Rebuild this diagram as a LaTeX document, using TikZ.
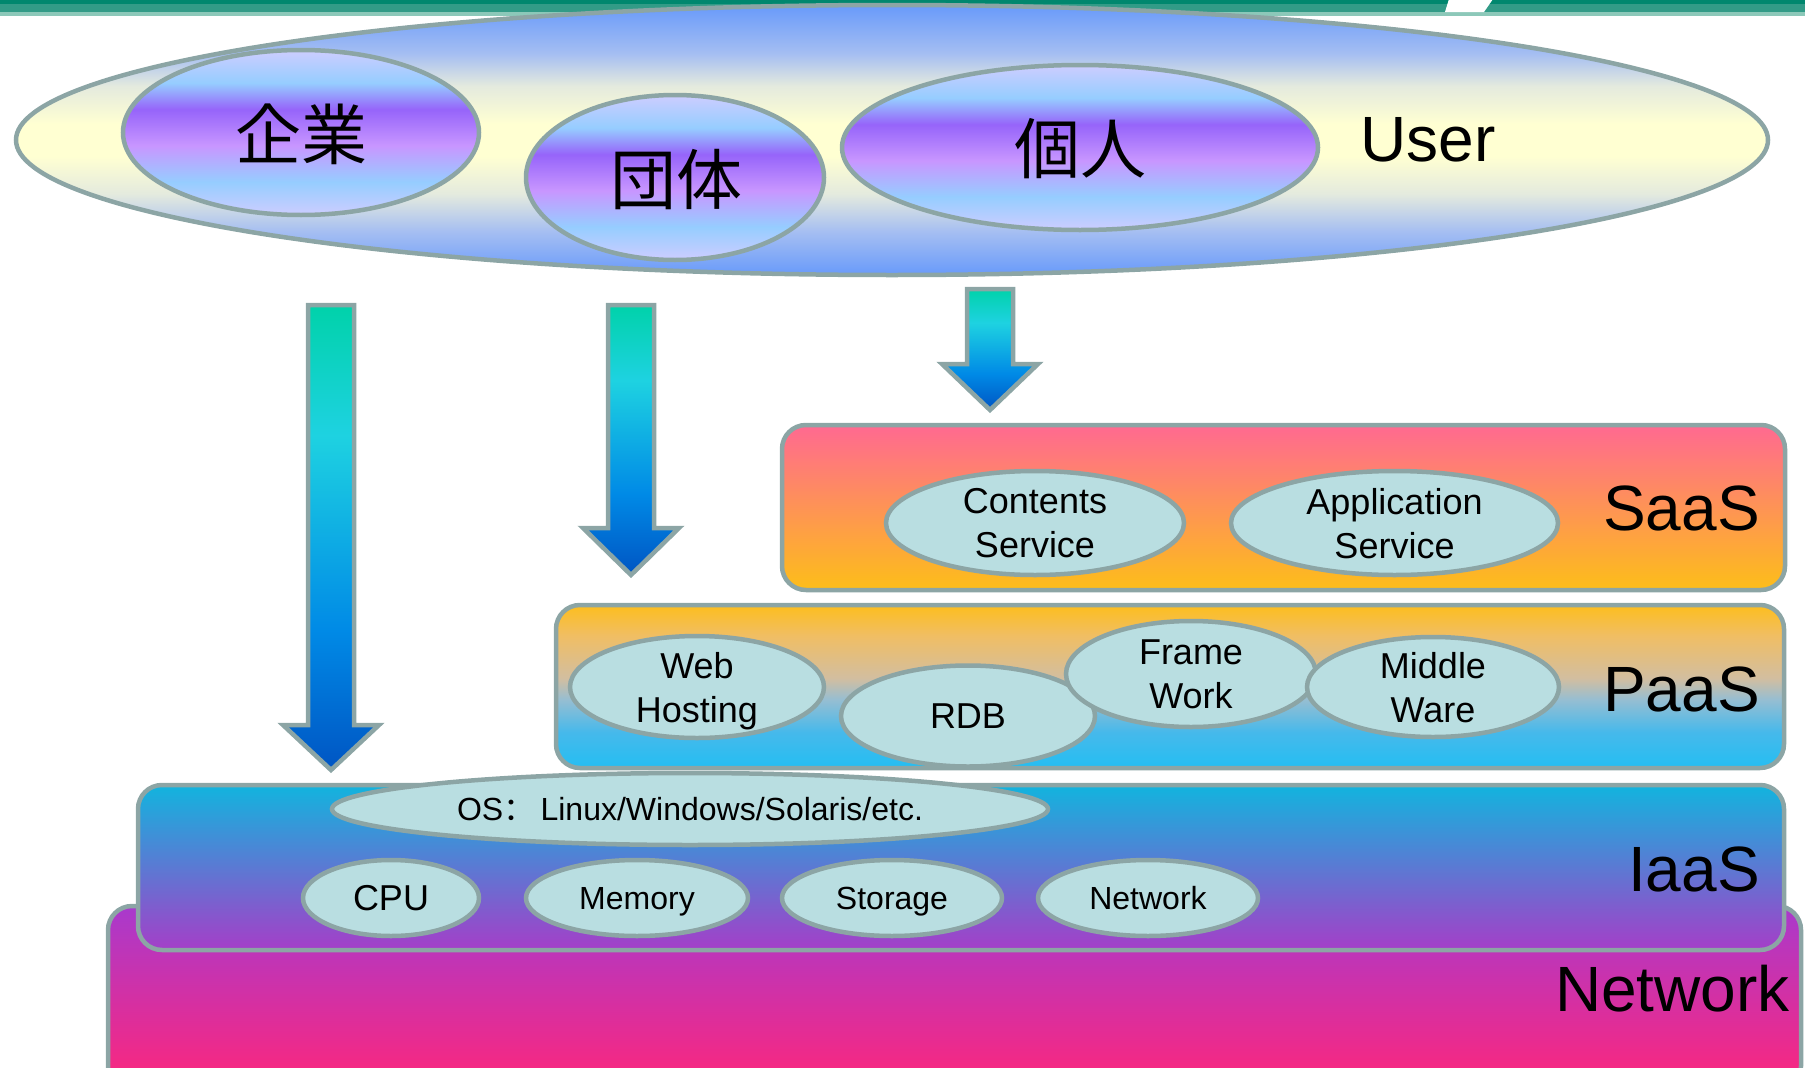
\documentclass[tikz,border=0pt]{standalone}
\usepackage{fontspec}
\setmainfont{Liberation Sans}
\newfontfamily\jpfont{Noto Sans CJK JP}
\newfontfamily\scfont{Noto Sans CJK SC}
\usetikzlibrary{shapes.geometric}

% palette
\definecolor{edge}{RGB}{140,165,165}
\definecolor{itemfill}{RGB}{185,222,225}
\definecolor{stripdark}{RGB}{0,135,110}
\definecolor{stripmid}{RGB}{50,155,135}
\definecolor{striplight}{RGB}{140,200,185}
% user ellipse
\definecolor{uBlue}{RGB}{104,154,250}
\definecolor{uMidA}{RGB}{165,190,242}
\definecolor{uMidB}{RGB}{228,234,222}
\definecolor{uYel}{RGB}{255,255,210}
% user groups
\definecolor{gLav}{RGB}{205,205,255}
\definecolor{gLBlue}{RGB}{150,205,255}
\definecolor{gPurple}{RGB}{150,100,250}
\definecolor{gLPurple}{RGB}{200,150,255}
% arrows
\definecolor{aTeal}{RGB}{0,210,170}
\definecolor{aCyan}{RGB}{30,210,225}
\definecolor{aBlue}{RGB}{0,138,230}
\definecolor{aDark}{RGB}{0,85,195}
% layers
\definecolor{saasTop}{RGB}{255,105,145}
\definecolor{saasBot}{RGB}{253,190,25}
\definecolor{paasA}{RGB}{253,190,30}
\definecolor{paasB}{RGB}{240,190,100}
\definecolor{paasC}{RGB}{210,190,160}
\definecolor{paasD}{RGB}{150,190,210}
\definecolor{paasE}{RGB}{70,185,235}
\definecolor{paasF}{RGB}{36,190,242}
\definecolor{iaasTop}{RGB}{18,180,222}
\definecolor{iaasMid}{RGB}{115,140,210}
\definecolor{iaasBot}{RGB}{165,62,200}
\definecolor{netTop}{RGB}{168,58,205}
\definecolor{netBot}{RGB}{255,38,122}

% shadings (25bp..75bp spans the shaded path, bottom to top)
\pgfdeclareverticalshading{userfill}{100bp}{color(0bp)=(uBlue); color(25bp)=(uBlue);
  color(33bp)=(uMidA); color(40bp)=(uMidB); color(47bp)=(uYel); color(53bp)=(uYel);
  color(60bp)=(uMidB); color(66bp)=(uMidA); color(75bp)=(uBlue); color(100bp)=(uBlue)}
\pgfdeclareverticalshading{groupfill}{100bp}{color(0bp)=(gLav); color(25bp)=(gLav);
  color(35bp)=(gLBlue); color(46bp)=(gLPurple); color(57bp)=(gPurple);
  color(65bp)=(gLBlue); color(75bp)=(gLav); color(100bp)=(gLav)}
\pgfdeclareverticalshading{arrowfill}{100bp}{color(0bp)=(aDark); color(25bp)=(aDark);
  color(40bp)=(aBlue); color(61bp)=(aCyan); color(75bp)=(aTeal); color(100bp)=(aTeal)}
\pgfdeclareverticalshading{paasfill}{100bp}{color(0bp)=(paasF); color(25bp)=(paasF);
  color(36bp)=(paasE); color(46bp)=(paasD); color(52.5bp)=(paasC); color(65.5bp)=(paasB);
  color(75bp)=(paasA); color(100bp)=(paasA)}

\tikzset{
  outline/.style={draw=edge, line width=4.5pt},
  group/.style={ellipse, outline, shading=groupfill, inner sep=0pt},
  item/.style={ellipse, outline, fill=itemfill, inner sep=0pt, align=center,
    text depth=0pt, font=\fontsize{36}{44}\selectfont},
  smallitem/.style={item, font=\fontsize{32}{38}\selectfont},
  layer/.style={rectangle, outline, rounded corners=24pt, inner sep=0pt},
  biglabel/.style={inner sep=0pt, font=\fontsize{64}{64}\selectfont},
  cjklabel/.style={inner sep=0pt, font=\jpfont\fontsize{66}{66}\selectfont},
  arrowbody/.style={outline, line join=miter, shading=arrowfill},
}

% downward block arrow: centre x, top y, head base y, tip y
\newcommand\flowarrow[4]{%
  \path[arrowbody] ({#1-23},#2) -- ({#1+23},#2) -- ({#1+23},#3) -- ({#1+48},#3)
    -- (#1,#4) -- ({#1-48},#3) -- ({#1-23},#3) -- cycle;}

\begin{document}
\begin{tikzpicture}[x=1pt, y=-1pt]
\clip (0,0) rectangle (1805,1068);

% header strip
\fill[stripdark] (0,0) rectangle (1805,4);
\fill[stripmid] (0,4) rectangle (1805,12);
\fill[striplight] (0,12) rectangle (1805,15.5);
\fill[white] (1449,-1) -- (1493,-1) -- (1484,12) -- (1445,12) -- cycle;

% users
\node[ellipse, outline, shading=userfill, inner sep=0pt,
  minimum width=1752pt, minimum height=270pt] (user) at (892,140) {};
\node[group, minimum width=356pt, minimum height=165pt] (ent) at (301,132.5) {};
\node[group, minimum width=298pt, minimum height=165pt] (grp) at (675,177.5) {};
\node[group, minimum width=476pt, minimum height=165pt] (ind) at (1080,147.5) {};
\node[cjklabel] (entlabel) at (301,134) {企業};
\node[cjklabel] (grplabel) at (676,180) {団体};
\node[cjklabel] (indlabel) at (1080,149) {個人};
\node[biglabel] (userlabel) at (1428,140) {User};

% access arrows
\flowarrow{331}{305}{725}{770}
\flowarrow{631}{305}{528}{575}
\flowarrow{990}{289}{364}{410}

% service layers
\node[layer, top color=netTop, bottom color=netBot,
  minimum width=1693pt, minimum height=184pt] (net) at (954.5,998) {};
\node[layer, top color=iaasTop, middle color=iaasMid, bottom color=iaasBot,
  minimum width=1646pt, minimum height=165pt] (iaas) at (961,867.5) {};
\node[layer, shading=paasfill,
  minimum width=1228pt, minimum height=163pt] (paas) at (1170,686.5) {};
\node[layer, top color=saasTop, bottom color=saasBot,
  minimum width=1003pt, minimum height=165pt] (saas) at (1283.5,507.5) {};

% SaaS
\node[item, minimum width=298pt, minimum height=104pt] (contents) at (1035,523) {Contents\\Service};
\node[item, minimum width=327pt, minimum height=104pt] (app) at (1394.5,523) {Application\\Service};
\node[biglabel, anchor=east] (saaslabel) at (1760,508) {SaaS};

% PaaS
\node[item, minimum width=254pt, minimum height=102pt] (web) at (697,687) {Web\\Hosting};
\node[item, minimum width=254pt, minimum height=101pt] (rdb) at (968,716) {RDB};
\node[item, minimum width=250pt, minimum height=106pt] (frame) at (1191,674) {Frame\\Work};
\node[item, minimum width=252pt, minimum height=100pt] (middle) at (1433,687) {Middle\\Ware};
\node[biglabel, anchor=east] (paaslabel) at (1760,689) {PaaS};

% IaaS
\node[smallitem, minimum width=716pt, minimum height=72pt] (os) at (690,809)
  {OS{\scfont ：}\,Linux/Windows/Solaris/etc.};
\node[item, minimum width=176pt, minimum height=76pt] (cpu) at (391,898) {CPU};
\node[smallitem, minimum width=222pt, minimum height=76pt] (mem) at (637,898) {Memory};
\node[smallitem, minimum width=220pt, minimum height=76pt] (sto) at (892,898) {Storage};
\node[smallitem, minimum width=220pt, minimum height=76pt] (nic) at (1148,898) {Network};
\node[biglabel, anchor=east] (iaaslabel) at (1760,869) {IaaS};

% network
\node[biglabel, anchor=east] (netlabel) at (1790,989) {Network};
\end{tikzpicture}
\end{document}
